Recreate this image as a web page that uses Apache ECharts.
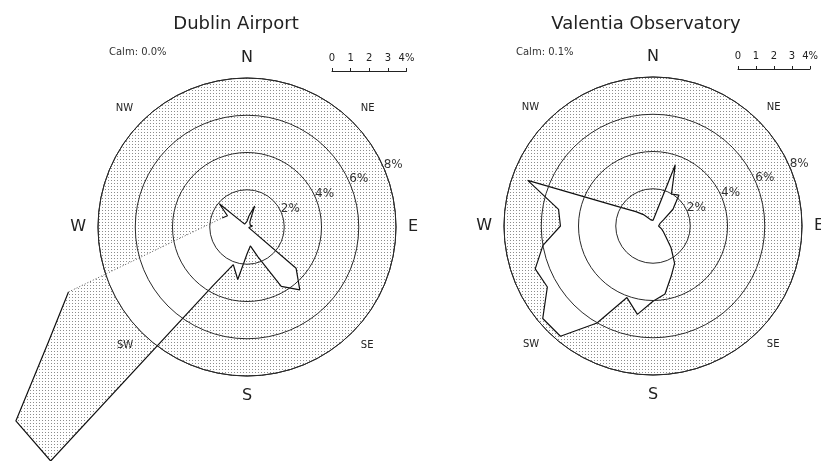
<!DOCTYPE html>
<html>
<head>
<meta charset="utf-8">
<title>Wind roses</title>
<script src="https://cdn.jsdelivr.net/npm/echarts@6/dist/echarts.min.js"></script>
<style>
  html, body { margin: 0; padding: 0; background: #fff; }
  #chart { width: 821px; height: 461px; }
</style>
</head>
<body>
<div id="chart"></div>
<script>
// wind direction, degrees from north
const bearings = [0, 10, 20, 30, 40, 50, 60, 70, 80, 90, 100, 110,
                  120, 130, 140, 150, 160, 170, 180, 190, 200, 210, 220, 230,
                  240, 250, 260, 270, 280, 290, 300, 310, 320, 330, 340, 350];
// % of hours from each direction
const dublinFreq = [0.3, 0.6, 1.2, 0.3, 0.2, 0.2, 0.2, 0.2, 0.3, 0.4, 0.2, 0.1,
                    0.2, 3.44, 4.41, 3.68, 1.69, 1.03, 1.45, 2.86, 2.15, 3.6, 16.4, 16.2,
                    12.3, 10.2, 3.76, 2.34, 1.74, 1.42, 1.21, 1.94, 0.2, 0.15, 0.1, 0.2];
const valentiaFreq = [0.3, 0.4, 3.5, 1.98, 2.17, 1.4, 0.65, 0.4, 0.3, 0.3, 0.4, 0.5,
                      0.65, 0.9, 1.5, 2.32, 2.86, 3.71, 4.04, 4.82, 4.09, 6.01, 7.73, 7.73,
                      6.55, 6.73, 6.0, 4.97, 5.15, 7.16, 2.0, 1.2, 0.8, 0.5, 0.35, 0.3];
const stations = ['Dublin Airport', 'Valentia Observatory'];
const calm = ['0.0%', '0.1%'];
const rings = [2, 4, 6, 8];
const compass = ['N', 'NE', 'E', 'SE', 'S', 'SW', 'W', 'NW'];
// stretch of outline that is only faintly printed (bearing range), per station
const faintEdge = [[250, 290], null];

const FONT = 'DejaVu Sans';
const centers = [[247, 227], [653, 226]];
const R = 149;           // pixel radius of the 8% circle
const RMAX = 8;
const OUTER_MAX = 20;    // second, invisible polar so the Dublin SW lobe can leave the circle
const ringLabelAt = 67;  // bearing where 2%..8% are written

// dotted shading like the scanned original
function stippleTile() {
    const c = document.createElement('canvas');
    c.width = 3; c.height = 3;
    const g = c.getContext('2d');
    g.fillStyle = '#8c8c8c';
    g.fillRect(0, 0, 1, 1);
    return c;
}
const dots = { image: stippleTile(), repeat: 'repeat' };

function rosePoints(freq) {
    const pts = bearings.map((b, i) => [freq[i], b]);
    pts.push([freq[0], 360]);   // close the shape
    return pts;
}

const chart = echarts.init(document.getElementById('chart'));
const freqs = [dublinFreq, valentiaFreq];

let series = [];
freqs.forEach((f, i) => {
    const pts = rosePoints(f);
    const faint = faintEdge[i];
    const inFaint = b => faint && b > faint[0] && b < faint[1];
    const onFaint = b => faint && b >= faint[0] && b <= faint[1];
    series.push(
        { // whole rose, shaded (only shows where it runs past the circle)
            type: 'line', coordinateSystem: 'polar', polarIndex: i + 2, data: pts,
            symbol: 'none', clip: false, silent: true, z: 2,
            lineStyle: { opacity: 0 },
            areaStyle: { color: dots, opacity: 1 }
        },
        { // inside the circle the rose is left white
            type: 'line', coordinateSystem: 'polar', polarIndex: i, data: pts,
            symbol: 'none', clip: true, silent: true, z: 3,
            lineStyle: { opacity: 0 },
            areaStyle: { color: '#fff', opacity: 1 }
        },
        { // outline
            type: 'line', coordinateSystem: 'polar', polarIndex: i + 2,
            data: pts.map(p => (inFaint(p[1]) ? '-' : p)),
            symbol: 'none', clip: false, silent: true, z: 4, connectNulls: false,
            lineStyle: { color: '#111', width: 1.2 }
        },
        {
            type: 'scatter', coordinateSystem: 'polar', polarIndex: i,
            symbolSize: 1, itemStyle: { color: 'rgba(0,0,0,0)' }, z: 12,
            data: rings.map(r => ({ value: [r, ringLabelAt], name: r + '%' })),
            label: {
                show: true, position: 'inside', offset: [9, -4], formatter: '{b}',
                fontFamily: FONT, fontSize: 12, color: '#000', textBorderWidth: 0
            }
        }
    );
    if (faint) {
        series.push({ // faint dotted part of the outline
            type: 'line', coordinateSystem: 'polar', polarIndex: i + 2,
            data: pts.map(p => (onFaint(p[1]) ? p : '-')),
            symbol: 'none', clip: false, silent: true, z: 4,
            lineStyle: { color: '#555', width: 1, type: [1, 2] }
        });
    }
});

const titleStyle = { fontFamily: FONT, fontSize: 18, fontWeight: 'normal', color: '#222' };
const calmStyle = { fontFamily: FONT, fontSize: 10, fontWeight: 'normal', color: '#333' };

chart.setOption({
    animation: false,
    backgroundColor: '#fff',
    title: [
        { text: stations[0], left: 231, top: 10, textAlign: 'center', textStyle: titleStyle },
        { text: stations[1], left: 641, top: 10, textAlign: 'center', textStyle: titleStyle },
        { text: 'Calm: ' + calm[0], left: 104, top: 42, textStyle: calmStyle },
        { text: 'Calm: ' + calm[1], left: 511, top: 42, textStyle: calmStyle }
    ],
    polar: centers.map(c => ({ center: c, radius: R }))
        .concat(centers.map(c => ({ center: c, radius: R * OUTER_MAX / RMAX }))),
    angleAxis: centers.map((c, i) => ({
        polarIndex: i, type: 'value', min: 0, max: 360, interval: 45,
        startAngle: 90, clockwise: true, z: 1,
        axisLine: { show: true, lineStyle: { color: '#222', width: 1 } },
        axisTick: { show: false },
        splitLine: { show: false },
        splitArea: { show: true, areaStyle: { color: [dots] } },
        axisLabel: {
            margin: 12,
            formatter: function (v) {
                if (v >= 360) return '';
                const name = compass[Math.round(v / 45)];
                return v % 90 === 0 ? '{big|' + name + '}' : '{small|' + name + '}';
            },
            rich: {
                big: { fontFamily: FONT, fontSize: 16, color: '#222' },
                small: { fontFamily: FONT, fontSize: 10, color: '#222' }
            }
        }
    })).concat(centers.map((c, i) => ({
        polarIndex: i + 2, type: 'value', min: 0, max: 360,
        startAngle: 90, clockwise: true, show: false
    }))),
    radiusAxis: centers.map((c, i) => ({
        polarIndex: i, type: 'value', min: 0, max: RMAX, interval: 2, z: 10,
        axisLine: { show: false },
        axisTick: { show: false },
        axisLabel: { show: false },
        splitLine: { show: true, lineStyle: { color: '#2a2a2a', width: 1 } }
    })).concat(centers.map((c, i) => ({
        polarIndex: i + 2, type: 'value', min: 0, max: OUTER_MAX, show: false
    }))),
    // the little 0-4% scale bars
    grid: [
        { left: 332, top: 70, width: R / 2, height: 1 },
        { left: 738, top: 68, width: R / 2, height: 1 }
    ],
    xAxis: [0, 1].map(i => ({
        gridIndex: i, type: 'value', min: 0, max: 4, interval: 1, position: 'top',
        axisLine: { lineStyle: { color: '#222' } },
        axisTick: { length: 3, lineStyle: { color: '#222' } },
        splitLine: { show: false },
        axisLabel: {
            margin: 7, fontFamily: FONT, fontSize: 10, color: '#222',
            formatter: v => (v === 4 ? '4%' : String(v))
        }
    })),
    yAxis: [0, 1].map(i => ({ gridIndex: i, type: 'value', show: false })),
    series: series
});
</script>
</body>
</html>
